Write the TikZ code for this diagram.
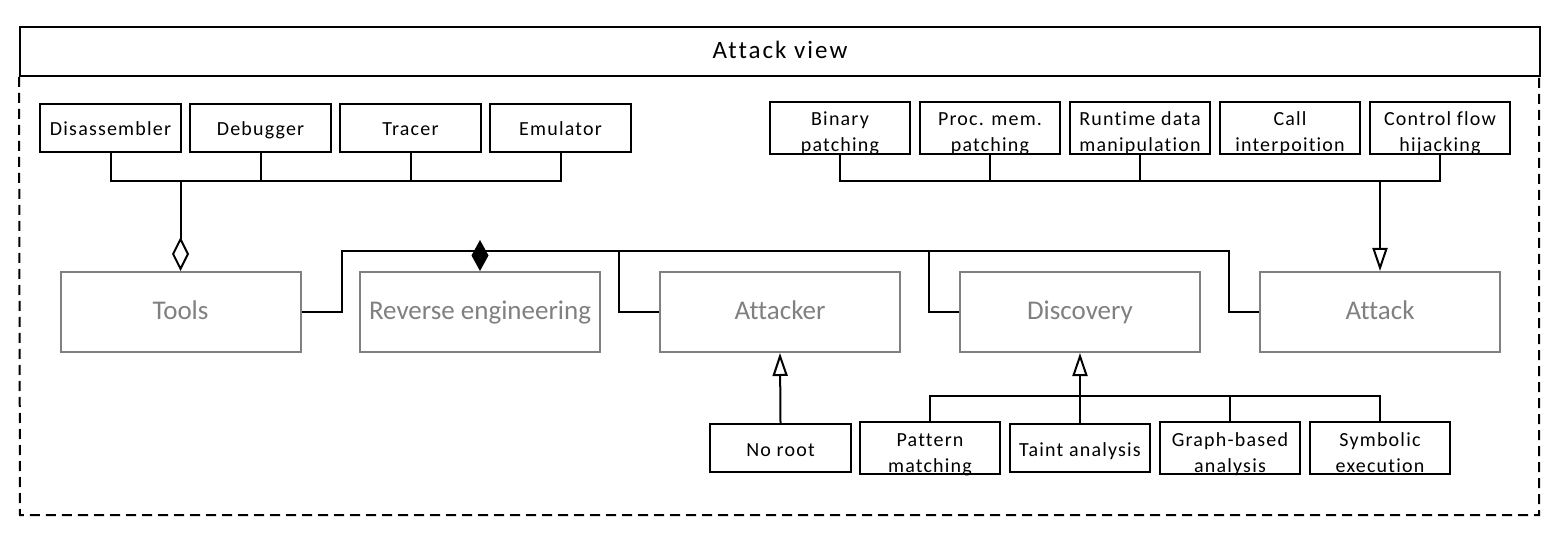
\documentclass[tikz,border=0pt]{standalone}
\usepackage{fontspec}
\setmainfont{Carlito}[Ligatures=NoCommon]
\newfontfamily\boxfont{Carlito}[Ligatures=NoCommon,LetterSpace=6]
\newfontfamily\titlefont{Carlito}[Ligatures=NoCommon,LetterSpace=8]
\usetikzlibrary{arrows.meta,calc}
\definecolor{boxgray}{RGB}{128,128,128}
\definecolor{txtgray}{RGB}{128,128,128}
\tikzset{
  small/.style={draw=black,line width=2pt,minimum width=141pt,minimum height=48pt,inner sep=0pt,align=center,text height=18pt,text depth=2pt,font=\boxfont\fontsize{20}{26}\selectfont},
  two/.style={text height=50pt,text depth=2pt},
  big/.style={draw=boxgray,line width=2pt,minimum width=240pt,minimum height=80pt,inner sep=0pt,text=txtgray,text height=18pt,text depth=2pt,font=\fontsize{27}{32}\selectfont},
  conn/.style={line width=2pt,black},
  agg/.style={conn,-{Diamond[open,length=34pt,width=17pt]}},
  comp/.style={conn,-{Diamond[length=31pt,width=17pt]}},
  gen/.style={conn,-{Triangle[open,length=23pt,width=15pt]}},
}
\begin{document}
\begin{tikzpicture}[x=1pt,y=-1pt]
\useasboundingbox (0,0) rectangle (1560,534);
% frame
\node[draw,line width=2pt,minimum width=1520pt,minimum height=49pt,inner sep=0pt,text height=16pt,text depth=1.6pt,font=\titlefont\fontsize{25}{30}\selectfont] (title) at (780,51.5) {Attack view};
\draw[line width=2pt,dash pattern=on 10pt off 6pt] (title.south west) -- (20,515) -- (1539,515) -- (1539,76);
% tool boxes
\node[small] (dis) at (110.5,128) {Disassembler};
\node[small] (deb) at (260.5,128) {Debugger};
\node[small] (tra) at (410.5,128) {Tracer};
\node[small] (emu) at (560.5,128) {Emulator};
% attack technique boxes
\node[small,two,minimum width=140pt,minimum height=48pt] (bp) at (840,128) {Binary\\patching};
\node[small,two,minimum width=140pt] (pm) at (990,128) {Proc. mem.\\patching};
\node[small,two,minimum width=140pt] (rd) at (1140,128) {Runtime data\\manipulation};
\node[small,two,minimum width=140pt] (ci) at (1290,128) {Call\\interpoition};
\node[small,two,minimum width=140pt] (cf) at (1440,128) {Control flow\\hijacking};
% main boxes
\node[big] (tools) at (180.5,312) {Tools};
\node[big] (re) at (480,312) {Reverse engineering};
\node[big] (attacker) at (780,312) {Attacker};
\node[big] (discovery) at (1080,312) {Discovery};
\node[big] (attack) at (1380,312) {Attack};
% bottom boxes
\node[small] (noroot) at (780.5,448) {No root};
\node[small,two,minimum width=140pt] (pat) at (930,448) {Pattern\\matching};
\node[small,minimum width=140pt] (taint) at (1080,448) {Taint analysis};
\node[small,two,minimum width=140pt] (graph) at (1230,448) {Graph-based\\analysis};
\node[small,two,minimum width=140pt] (sym) at (1380,448) {Symbolic\\execution};
% junctions
\coordinate (tbus) at ($(tools.north)+(0,-90)$);
\coordinate (abus) at ($(attack.north)+(0,-90)$);
\coordinate (rebus) at ($(re.north)+(0,-20)$);
\coordinate (dbus) at ($(discovery.south)+(0,43)$);
% tools aggregation
\draw[conn] (dis.south) |- (tbus);
\draw[conn] (deb.south) |- (tbus);
\draw[conn] (tra.south) |- (tbus);
\draw[conn] (emu.south) |- (tbus);
\draw[agg] (tbus) -- (tools.north);
% attack generalization
\draw[conn] (bp.south) |- (abus);
\draw[conn] (pm.south) |- (abus);
\draw[conn] (rd.south) |- (abus);
\draw[conn] (cf.south) |- (abus);
\draw[gen] (abus) -- (attack.north);
% composition into reverse engineering
\draw[conn] (tools.east) -- ++(40,0) |- (rebus);
\draw[conn] (attacker.west) -- ++(-40,0) |- (rebus);
\draw[conn] (discovery.west) -- ++(-30,0) |- (rebus);
\draw[conn] (attack.west) -- ++(-30,0) |- (rebus);
\draw[comp] (rebus) -- (re.north);
% attacker
\draw[gen] (noroot.north) -- (attacker.south);
% discovery
\draw[conn] (pat.north) |- (dbus);
\draw[conn] (graph.north) |- (dbus);
\draw[conn] (sym.north) |- (dbus);
\draw[gen] (taint.north) -- (discovery.south);
\end{tikzpicture}
\end{document}
